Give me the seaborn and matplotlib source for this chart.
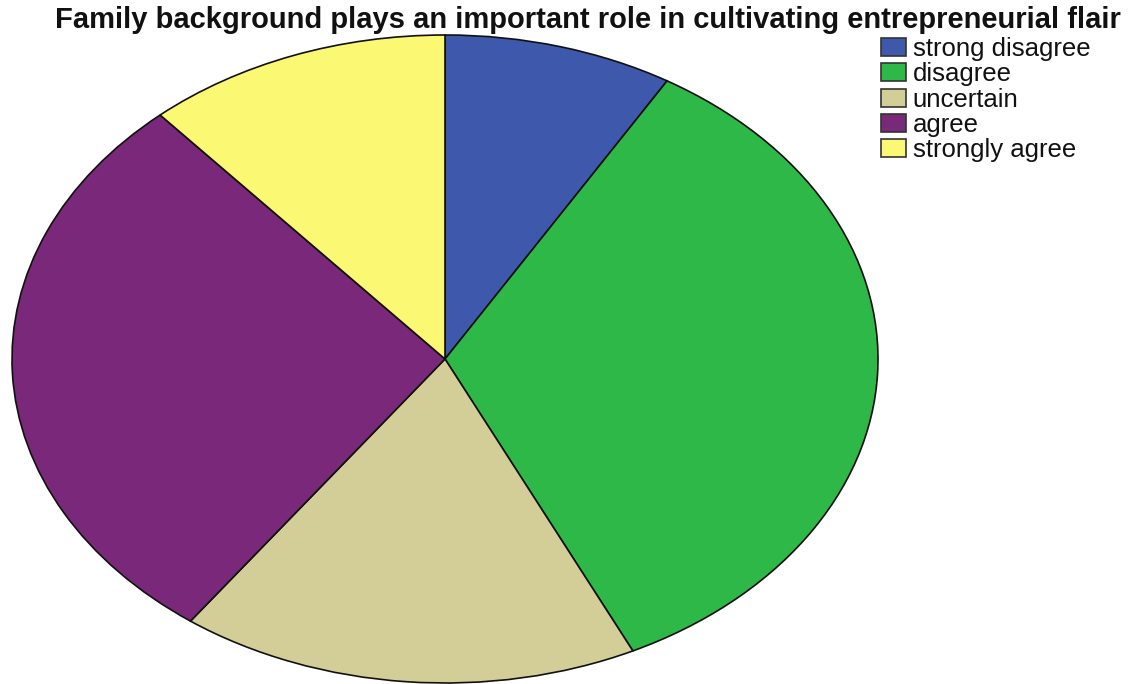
import matplotlib
matplotlib.use("Agg")
import matplotlib.pyplot as plt
import seaborn as sns

# Survey responses (counts) for each answer option
categories = ["strong disagree", "disagree", "uncertain", "agree", "strongly agree"]
counts = [3, 12, 6, 10, 4]
colors = ["#3E58AC", "#2EB848", "#D3CE97", "#79287A", "#FBF873"]
title = "Family background plays an important role in cultivating entrepreneurial flair"

sns.set_theme(style="white")
plt.rcParams["font.family"] = ["Liberation Sans", "DejaVu Sans"]

W, H = 1133, 684
fig = plt.figure(figsize=(W / 100, H / 100), dpi=100)
fig.patch.set_facecolor("white")

# Elliptical pie: axes box stretched wider than tall, aspect left free
ax = fig.add_axes([12 / W, 1 - 683 / H, 866 / W, 648 / H])
wedges, _ = ax.pie(
    counts,
    colors=colors,
    startangle=90,
    counterclock=False,
    radius=1.0,
    wedgeprops=dict(edgecolor="#111111", linewidth=1.2),
)
ax.set_xlim(-1.0, 1.0)
ax.set_ylim(-1.0, 1.0)
ax.set_aspect("auto")
ax.axis("off")

fig.text(588 / W, 1 - 28 / H, title, ha="center", va="baseline",
         fontsize=21, fontweight="bold", color="#111111")

leg = fig.legend(
    wedges, categories,
    loc="upper left", bbox_to_anchor=(881 / W, 1 - 37 / H),
    frameon=False, fontsize=18.5,
    handlelength=0.98, handleheight=0.7, handletextpad=0.25,
    labelspacing=0.05, borderpad=0.0, borderaxespad=0.0,
)
for h in leg.legend_handles:
    h.set_edgecolor("#333333")
    h.set_linewidth(1.2)
for t in leg.get_texts():
    t.set_color("#111111")

fig.savefig("out.png", dpi=100, facecolor="white")
